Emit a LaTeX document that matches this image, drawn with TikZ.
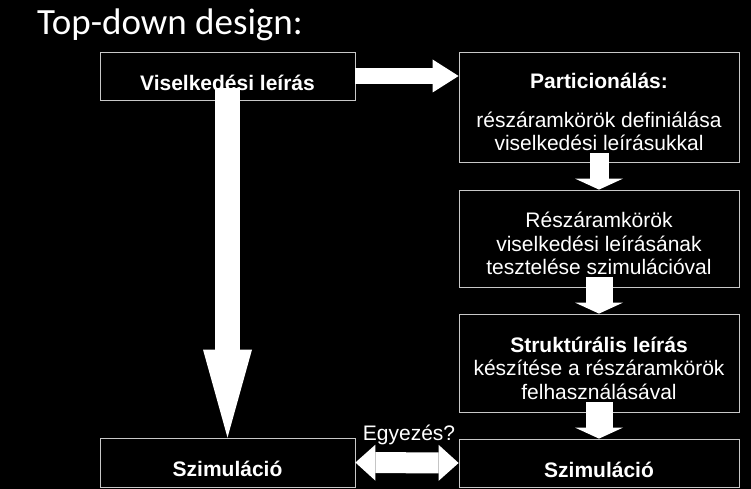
\documentclass[tikz,border=0pt]{standalone}
\usepackage{fontspec}
\setmainfont{Liberation Sans}
\newfontfamily\titlefont{Carlito}
\usetikzlibrary{arrows.meta, positioning}
\definecolor{frame}{RGB}{200,200,200}
\newcommand{\topgap}[1]{\rule{0pt}{#1pt}}

\begin{document}
\begin{tikzpicture}[x=1pt, y=-1pt,
  box/.style={draw=frame, fill=black, line width=0.8pt, inner sep=0pt,
              minimum width=280pt, minimum height=48pt, text=white,
              font=\fontsize{21}{23.5}\selectfont, align=center},
  arrow/.style={draw=white, line width=27pt,
                -{Triangle[width=48pt, length=11pt, line width=0pt]}}
]
\fill[black] (0,0) rectangle (751,489);
\useasboundingbox (0,0) rectangle (751,489);

\node[anchor=base west, inner sep=0pt, text=white,
      font=\titlefont\fontsize{37}{44}\selectfont] (title) at (37,35) {Top-down design:};

\node[box, minimum width=255pt] (leiras) at (227.5,76)
  {\topgap{29}\textbf{Viselkedési leírás}};
\node[box, minimum height=110pt] (partic) at (599,107)
  {\topgap{25}\textbf{Particionálás:}\\[15.5pt]
   részáramkörök definiálása\\ viselkedési leírásukkal};
\node[box, minimum height=97pt] (teszt) at (599,238.5)
  {\topgap{26}Részáramkörök\\ viselkedési leírásának\\ tesztelése szimulációval};
\node[box, minimum height=98pt] (strukt) at (599,363)
  {\topgap{26}\textbf{Struktúrális leírás}\\ készítése a részáramkörök\\ felhasználásával};
\node[box, minimum width=255pt, minimum height=49pt] (szimA) at (227.5,462.5)
  {\topgap{29}\textbf{Szimuláció}};
\node[box] (szimB) at (599,463)
  {\topgap{29}\textbf{Szimuláció}};
\node[anchor=base, inner sep=0pt, text=white,
      font=\fontsize{21}{24}\selectfont] (egyezes) at (409,440) {Egyezés?};

\draw[arrow, line width=25pt, -{Triangle[width=49pt, length=88pt, line width=0pt]}]
  ([yshift=12pt]leiras.south) -- (szimA.north);
\draw[arrow, line width=16pt, -{Triangle[width=33pt, length=26pt, line width=0pt]}]
  (leiras.east) -- (leiras.east -| partic.west);
\draw[arrow, line width=19pt] ([yshift=9pt]partic.south) -- (teszt.north);
\draw[arrow] ([yshift=10pt]teszt.south) -- (strukt.north);
\draw[arrow] ([yshift=10pt]strukt.south) -- (szimB.north);
\draw[arrow, line width=21pt,
      {Triangle[width=36pt, length=20pt, line width=0pt]}-{Triangle[width=36pt, length=20pt, line width=0pt]}]
  (szimA.east) -- (szimB.west);
\end{tikzpicture}
\end{document}
